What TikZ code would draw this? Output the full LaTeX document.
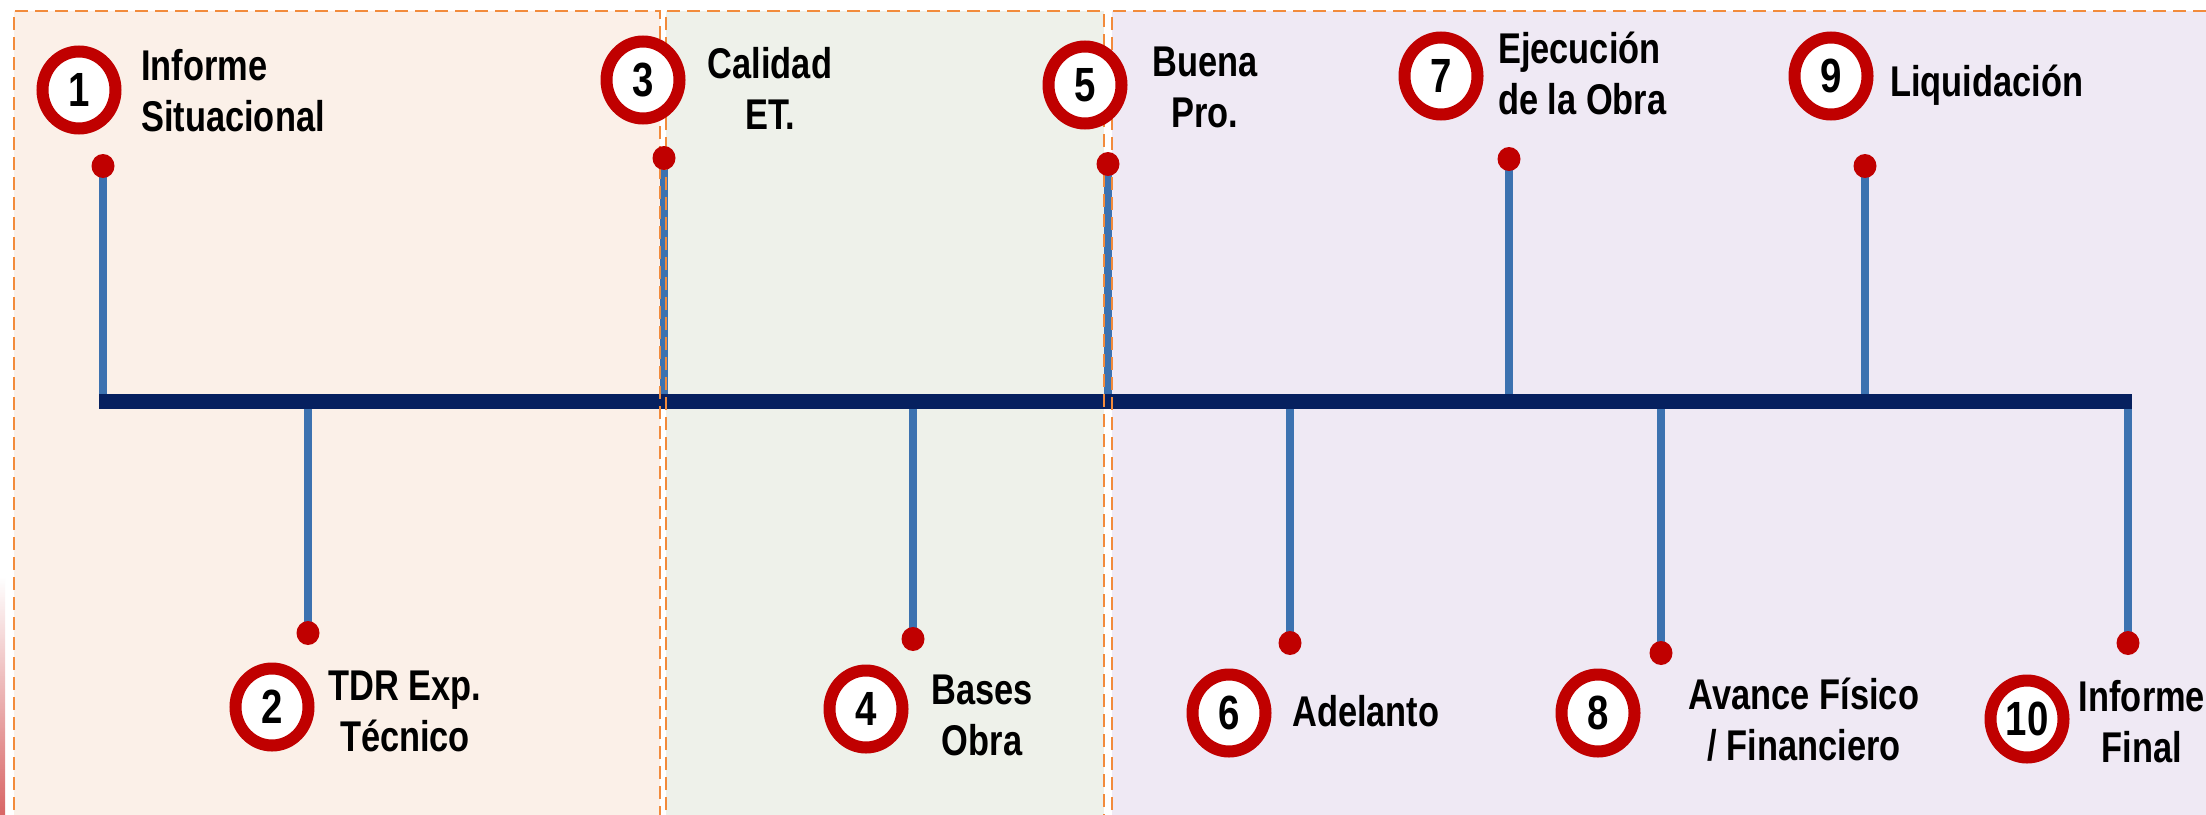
\documentclass[tikz,border=0pt]{standalone}
\usepackage{fontspec}
\setmainfont{Liberation Sans}[FakeStretch=0.8]
\usetikzlibrary{shapes.geometric}
\definecolor{panelA}{HTML}{FBF0E8}
\definecolor{panelB}{HTML}{EEF1EA}
\definecolor{panelC}{HTML}{EFE9F4}
\definecolor{borderorange}{HTML}{F28B3C}
\definecolor{barnavy}{HTML}{06205F}
\definecolor{stemblue}{HTML}{3C72B0}
\definecolor{dotred}{HTML}{C00000}
\tikzset{
  panelborder/.style={draw=borderorange, line width=2pt, dash pattern=on 13pt off 7pt},
  stemline/.style={draw=stemblue, line width=8pt},
  dotn/.style={ellipse, fill=dotred, minimum width=23pt, minimum height=24pt, inner sep=0pt},
  badge/.style={ellipse, draw=dotred, line width=12pt, fill=white, minimum width=73pt, minimum height=77pt, inner sep=0pt, font=\fontsize{48}{48}\selectfont\bfseries},
  lbl/.style={inner sep=0pt, font=\fontsize{43}{51}\selectfont\bfseries}
}
\begin{document}
\begin{tikzpicture}[x=1pt,y=-1pt]
\useasboundingbox (0,0) rectangle (2206,814);
\clip (0,0) rectangle (2206,814);
\fill[white] (0,0) rectangle (2206,814);
% panels
\fill[panelA] (14,11) rectangle (660,830);
\fill[panelB] (666,11) rectangle (1104,830);
\fill[panelC] (1112,11) rectangle (2230,830);
% artifact strip
\shade[top color=white, bottom color=red!75!black, opacity=0.6] (0,577) rectangle (5,814);
% bar
\coordinate (barL) at (99,401);
\coordinate (barR) at (2132,401);
% dot positions
\coordinate (d1) at (103,166);
\coordinate (d2) at (308,633);
\coordinate (d3) at (664,158);
\coordinate (d4) at (913,639);
\coordinate (d5) at (1108,164);
\coordinate (d6) at (1290,643);
\coordinate (d7) at (1509,159);
\coordinate (d8) at (1661,653);
\coordinate (d9) at (1865,166);
\coordinate (d10) at (2128,643);
% stems
\foreach \i in {1,...,10} { \draw[stemline] (d\i) -- (d\i |- barL); }
\draw[barnavy, line width=15pt] (barL) -- (barR);
% panel borders
\draw[panelborder] (14,830) -- (14,11) -- (660,11) -- (660,830);
\draw[panelborder] (666,830) -- (666,11) -- (1104,11) -- (1104,830);
\draw[panelborder] (1112,830) -- (1112,11) -- (2230,11);
% dots
\foreach \i in {1,...,10} { \node[dotn] (dot\i) at (d\i) {}; }
% badges
\node[badge] (b1) at (79,90) {1};
\node[badge] (b2) at (272,707) {2};
\node[badge] (b3) at (643,80) {3};
\node[badge] (b4) at (866,709) {4};
\node[badge] (b5) at (1085,85) {5};
\node[badge] (b6) at (1229,713) {6};
\node[badge] (b7) at (1441,76) {7};
\node[badge] (b8) at (1598,713) {8};
\node[badge] (b9) at (1831,76) {9};
\node[badge] (b10) at (2027,719) {10};
% labels (base anchor = baseline of last line)
\node[lbl, anchor=base west, align=left] (t1) at (141,131) {Informe\\Situacional};
\node[lbl, anchor=base, align=center] (t2) at (405,751) {TDR Exp.\\Técnico};
\node[lbl, anchor=base, align=center] (t3) at (770,129) {Calidad\\ET.};
\node[lbl, anchor=base, align=center] (t4) at (982,755) {Bases\\Obra};
\node[lbl, anchor=base, align=center] (t5) at (1205,127) {Buena\\Pro.};
\node[lbl, anchor=base west] (t6) at (1292,726) {Adelanto};
\node[lbl, anchor=base west, align=left] (t7) at (1498,114) {Ejecución\\de la Obra};
\node[lbl, anchor=base, align=center] (t8) at (1804,760) {Avance Físico\\/ Financiero};
\node[lbl, anchor=base west] (t9) at (1890,96) {Liquidación};
\node[lbl, anchor=base, align=center] (t10) at (2142,762) {Informe\\Final};
\end{tikzpicture}
\end{document}
